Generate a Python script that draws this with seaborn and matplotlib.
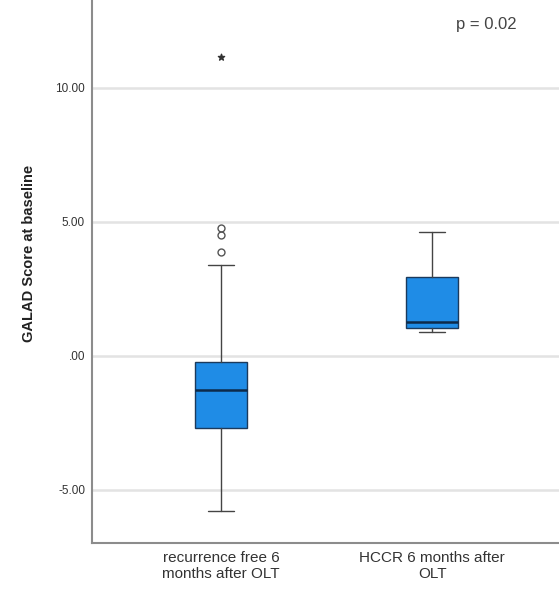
import matplotlib
matplotlib.use('Agg')
import matplotlib.pyplot as plt
import seaborn as sns

# values (GALAD score at baseline)
groups = ['recurrence free 6\nmonths after OLT', 'HCCR 6 months after\nOLT']
whisker_low = [-5.78, 0.90]
q1 = [-2.69, 1.04]
median = [-1.27, 1.28]
q3 = [-0.22, 2.95]
whisker_high = [3.40, 4.63]
outliers = [[3.88, 4.51, 4.78], []]
extremes = [[11.16], []]

yticks = [-5, 0, 5, 10]
ytick_labels = ['-5.00', '.00', '5.00', '10.00']
p_text = 'p = 0.02'

sns.set_theme(style='white')
plt.rcParams['font.family'] = ['Liberation Sans', 'DejaVu Sans']

fig = plt.figure(figsize=(5.59, 5.89), dpi=100)
ax = fig.add_axes([0.1646, 0.078, 0.85, 0.922])

stats = []
for i in range(len(groups)):
    stats.append({
        'whislo': whisker_low[i], 'q1': q1[i], 'med': median[i],
        'q3': q3[i], 'whishi': whisker_high[i], 'fliers': outliers[i],
    })

box_color = '#1f8ce6'
ax.bxp(stats, positions=range(len(groups)), widths=0.25, patch_artist=True,
       capwidths=0.12,
       boxprops=dict(facecolor=box_color, edgecolor='#1b3a5c', linewidth=1),
       medianprops=dict(color='#0d2a4a', linewidth=1.8),
       whiskerprops=dict(color='#444444', linewidth=1),
       capprops=dict(color='#444444', linewidth=1),
       flierprops=dict(marker='o', markerfacecolor='none', markeredgecolor='#555555',
                       markersize=5, markeredgewidth=1),
       zorder=3)

for i, ext in enumerate(extremes):
    if ext:
        ax.scatter([i] * len(ext), ext, marker='*', s=22, color='#333333', zorder=4)

ax.set_xlim(-0.611, 1.64)
ax.set_ylim(-6.98, 13.28)
ax.set_yticks(yticks)
ax.set_yticklabels(ytick_labels, fontsize=8.5, color='#333333')
ax.set_xticks(range(len(groups)))
ax.set_xticklabels(groups, fontsize=11, color='#333333', linespacing=1.15)
ax.tick_params(axis='y', length=0, pad=5)
ax.tick_params(axis='x', length=0, pad=6)

ax.yaxis.grid(True, color='#e3e3e3', linewidth=1.8, zorder=0)
ax.set_axisbelow(True)

for side in ['top', 'right']:
    ax.spines[side].set_visible(False)
for side in ['left', 'bottom']:
    ax.spines[side].set_color('#8c8c8c')
    ax.spines[side].set_linewidth(1.5)

ax.set_ylabel('GALAD Score at baseline', fontsize=10.5, fontweight='bold', color='#222222')
ax.yaxis.set_label_coords(-0.118, 0.534)

fig.text(0.87, 0.958, p_text, fontsize=12, ha='center', va='center', color='#444444')

fig.savefig('out.png', dpi=100, facecolor='white')
